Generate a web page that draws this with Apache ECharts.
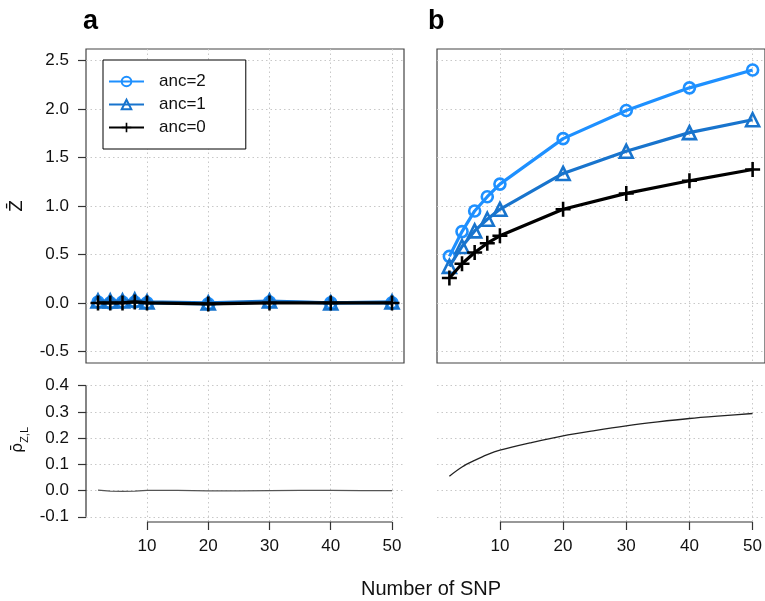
<!DOCTYPE html>
<html>
<head>
<meta charset="utf-8">
<script src="https://cdn.jsdelivr.net/npm/echarts@6/dist/echarts.min.js"></script>
<style>
html,body{margin:0;padding:0;background:#fff;}
#chart{width:765px;height:601px;}
</style>
</head>
<body>
<div id="chart"></div>
<script>
// ---- data ----
const snpX = [2, 4, 6, 8, 10, 20, 30, 40, 50];
const zA_anc2 = [0.01, 0.00, 0.01, 0.01, 0.00, -0.01, 0.01, 0.00, 0.00];
const zA_anc1 = [0.02, 0.02, 0.02, 0.03, 0.01, 0.00, 0.02, 0.00, 0.01];
const zA_anc0 = [0.00, 0.00, 0.00, 0.01, 0.00, -0.01, 0.00, 0.00, 0.00];
const zB_anc2 = [0.48, 0.736, 0.949, 1.096, 1.226, 1.695, 1.986, 2.219, 2.404];
const zB_anc1 = [0.377, 0.582, 0.743, 0.863, 0.966, 1.336, 1.565, 1.757, 1.89];
const zB_anc0 = [0.257, 0.404, 0.52, 0.616, 0.692, 0.966, 1.13, 1.26, 1.377];
const rhoX = [2, 4, 6, 8, 10, 15, 20, 25, 30, 35, 40, 45, 50];
const rhoA = [0.002, -0.002, -0.003, -0.002, 0.001, 0.001, -0.001, -0.001, 0.000, 0.001, 0.001, 0.000, 0.000];
const rhoB = [0.055, 0.09, 0.115, 0.137, 0.154, 0.183, 0.209, 0.229, 0.247, 0.262, 0.275, 0.285, 0.294];
const xTicks = [10, 20, 30, 40, 50];
const zTicks = [-0.5, 0, 0.5, 1.0, 1.5, 2.0, 2.5];
const rhoTicks = [-0.1, 0, 0.1, 0.2, 0.3, 0.4];
const seriesNames = ['anc=2', 'anc=1', 'anc=0'];

// ---- styling ----
const FONT = 'Liberation Sans, Arial, sans-serif';
const colors = ['#1E90FF', '#1874CD', '#000000'];
const plusPath = 'path://M-1.7,-10 L1.7,-10 L1.7,10 L-1.7,10 Z M-10,-1.7 L10,-1.7 L10,1.7 L-10,1.7 Z';
const X_MIN = 0.04, X_MAX = 51.96;
const ZMIN = -0.62, ZMAX = 2.62, RMIN = -0.12, RMAX = 0.42;

const pair = (xs, ys) => xs.map((x, i) => [x, ys[i]]);
const fmt = v => (v < 0 ? '-' : '') + Math.abs(v).toFixed(1);

const grid = [
  {left: 86, top: 49, width: 318, height: 314, show: true, borderColor: '#444', borderWidth: 1.2},
  {left: 437, top: 49, width: 331, height: 314, show: true, borderColor: '#444', borderWidth: 1.2},
  {left: 86, top: 380.5, width: 318, height: 141.5},
  {left: 437, top: 380.5, width: 331, height: 141.5}
];

const splitDot = {show: true, lineStyle: {color: '#c8c8c8', type: [1.5, 3], width: 1}};

function xAxisCfg(gi, bottom) {
  return {
    type: 'value', gridIndex: gi, min: X_MIN, max: X_MAX, position: 'bottom',
    axisLine: {show: false, onZero: false},
    axisTick: {show: bottom, customValues: xTicks, length: 8, lineStyle: {color: '#333', width: 1.2}},
    axisLabel: {show: bottom, customValues: xTicks, margin: 16, fontSize: 17, color: '#111', fontFamily: FONT},
    splitLine: splitDot
  };
}
function yAxisCfg(gi, min, max, ticks, showLabels) {
  return {
    type: 'value', gridIndex: gi, min: min, max: max, position: 'left',
    axisLine: {show: false, onZero: false},
    axisTick: {show: showLabels, customValues: ticks, length: 8, lineStyle: {color: '#333', width: 1.2}},
    axisLabel: {show: showLabels, customValues: ticks, margin: 17, fontSize: 17, color: '#111', fontFamily: FONT, formatter: fmt},
    splitLine: splitDot
  };
}

function zSeries(name, idx, data, gi) {
  const c = colors[idx];
  const sym = idx === 0 ? 'circle' : (idx === 1 ? 'triangle' : plusPath);
  const isPlus = idx === 2;
  return {
    name: name, type: 'line', xAxisIndex: gi, yAxisIndex: gi,
    data: pair(snpX, data),
    symbol: sym, symbolSize: isPlus ? 15 : (idx === 1 ? 13 : 11),
    showAllSymbol: true,
    lineStyle: {color: c, width: 3.2},
    itemStyle: isPlus ? {color: c, borderWidth: 0} : {color: 'rgba(255,255,255,0)', borderColor: c, borderWidth: 2.6},
    z: 10 + idx,
    animation: false
  };
}

const series = [];
[zA_anc2, zA_anc1, zA_anc0].forEach((d, i) => series.push(zSeries(seriesNames[i], i, d, 0)));
[zB_anc2, zB_anc1, zB_anc0].forEach((d, i) => series.push(zSeries(seriesNames[i], i, d, 1)));
series.push({type: 'line', xAxisIndex: 2, yAxisIndex: 2, data: pair(rhoX, rhoA), symbol: 'none', lineStyle: {color: '#555', width: 1.2}, animation: false, silent: true});
series.push({type: 'line', xAxisIndex: 3, yAxisIndex: 3, data: pair(rhoX, rhoB), symbol: 'none', lineStyle: {color: '#222', width: 1.3}, smooth: 0.3, animation: false, silent: true});
// R-style axis lines spanning first..last tick
[2, 3].forEach(gi => {
  series.push({type: 'line', xAxisIndex: gi, yAxisIndex: gi, clip: false, silent: true, symbol: 'none', animation: false,
    data: [[xTicks[0], RMIN], [xTicks[xTicks.length - 1], RMIN]], lineStyle: {color: '#333', width: 1.2}});
});
series.push({type: 'line', xAxisIndex: 2, yAxisIndex: 2, clip: false, silent: true, symbol: 'none', animation: false,
  data: [[X_MIN, rhoTicks[0]], [X_MIN, rhoTicks[rhoTicks.length - 1]]], lineStyle: {color: '#333', width: 1.2}});

const option = {
  backgroundColor: '#fff',
  animation: false,
  grid: grid,
  xAxis: [xAxisCfg(0, false), xAxisCfg(1, false), xAxisCfg(2, true), xAxisCfg(3, true)],
  yAxis: [
    yAxisCfg(0, ZMIN, ZMAX, zTicks, true),
    yAxisCfg(1, ZMIN, ZMAX, zTicks, false),
    yAxisCfg(2, RMIN, RMAX, rhoTicks, true),
    yAxisCfg(3, RMIN, RMAX, rhoTicks, false)
  ],
  legend: {
    data: seriesNames,
    orient: 'vertical', left: 103, top: 60,
    itemWidth: 35, itemHeight: 12, itemGap: 6,
    padding: [13, 40, 13, 5],
    borderColor: '#000', borderWidth: 1,
    backgroundColor: '#fff',
    textStyle: {fontSize: 17, color: '#111', fontFamily: FONT, padding: [0, 0, 0, 10], lineHeight: 17},
    selectedMode: false
  },
  graphic: [
    {type: 'text', left: 83, top: 8, style: {text: 'a', font: 'bold 27px ' + FONT, fill: '#000'}},
    {type: 'text', left: 428, top: 8, style: {text: 'b', font: 'bold 27px ' + FONT, fill: '#000'}},
    {type: 'text', x: 18, y: 206, rotation: Math.PI / 2,
      style: {text: 'Z\u0304', font: '17px DejaVu Sans, sans-serif', fill: '#111', align: 'center', verticalAlign: 'middle'}},
    {type: 'text', x: 20, y: 440, rotation: Math.PI / 2,
      style: {text: '{a|\u03C1\u0304}{b|Z,L}', align: 'center', verticalAlign: 'middle', fill: '#111',
        rich: {a: {fontSize: 16, fontFamily: 'DejaVu Sans', lineHeight: 20, verticalAlign: 'top'},
               b: {fontSize: 11, fontFamily: FONT, lineHeight: 20, verticalAlign: 'bottom', padding: [6, 0, 0, 0]}}}},
    {type: 'text', x: 431, y: 589, style: {text: 'Number of SNP', font: '20px ' + FONT, fill: '#111', align: 'center', verticalAlign: 'middle'}}
  ],
  series: series
};

const chart = echarts.init(document.getElementById('chart'), null, {renderer: 'canvas'});
chart.setOption(option);
</script>
</body>
</html>
